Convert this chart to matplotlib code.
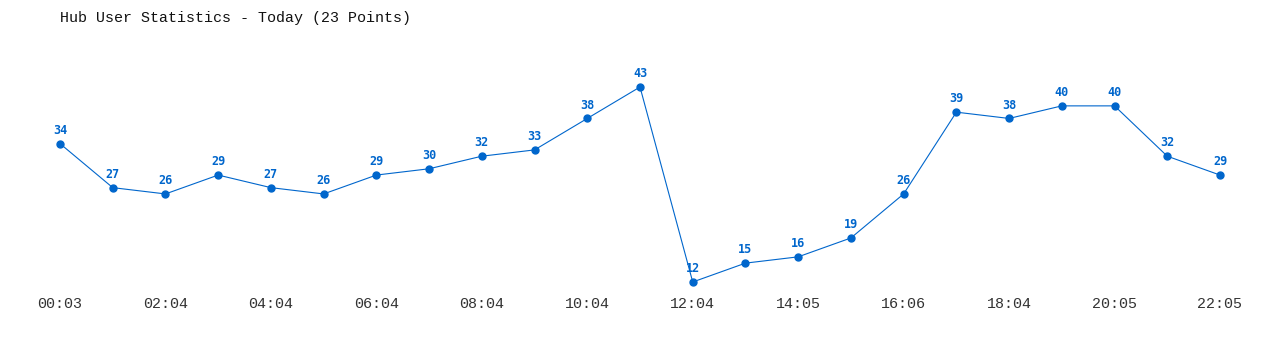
import matplotlib
matplotlib.use("Agg")
import matplotlib.pyplot as plt

title = "Hub User Statistics - Today (23 Points)"
times = ["00:03", "01:03", "02:04", "03:04", "04:04", "05:04", "06:04", "07:04",
         "08:04", "09:04", "10:04", "11:04", "12:04", "13:04", "14:05", "15:05",
         "16:06", "17:05", "18:04", "19:05", "20:05", "21:05", "22:05"]
users = [34, 27, 26, 29, 27, 26, 29, 30, 32, 33, 38, 43, 12, 15, 16, 19, 26,
         39, 38, 40, 40, 32, 29]

W, H = 1280, 350
fig = plt.figure(figsize=(W / 100, H / 100), dpi=100)
fig.patch.set_facecolor("white")
x0, x1 = 60, 1220
yb, yt = 282, 87
ax = fig.add_axes([x0 / W, (H - yb) / H, (x1 - x0) / W, (yb - yt) / H])
ax.set_axis_off()
ax.set_xlim(0, len(users) - 1)
ax.set_ylim(min(users), max(users))

color = "#0066CC"
xs = list(range(len(users)))
ax.plot(xs, users, color=color, lw=0.8, marker="o", ms=5, clip_on=False)
mono = ["DejaVu Sans Mono", "Liberation Mono"]
thin = ["Liberation Mono", "DejaVu Sans Mono"]
for x, v in zip(xs, users):
    ax.annotate(str(v), (x, v), xytext=(0, 5), textcoords="offset points",
                ha="center", va="bottom", fontsize=8.5, fontweight="bold",
                color=color, family=mono)

for i in range(0, len(times), 2):
    ax.annotate(times[i], (i, 0), xycoords=("data", "axes fraction"),
                xytext=(0, -16), textcoords="offset points",
                ha="center", va="center", fontsize=10.8, color="#333333",
                family=thin)

fig.text(60 / W, 1 - 18 / H, title, ha="left", va="center", fontsize=10.8,
         color="#111111", family=thin)

fig.savefig("out.png", dpi=100)
